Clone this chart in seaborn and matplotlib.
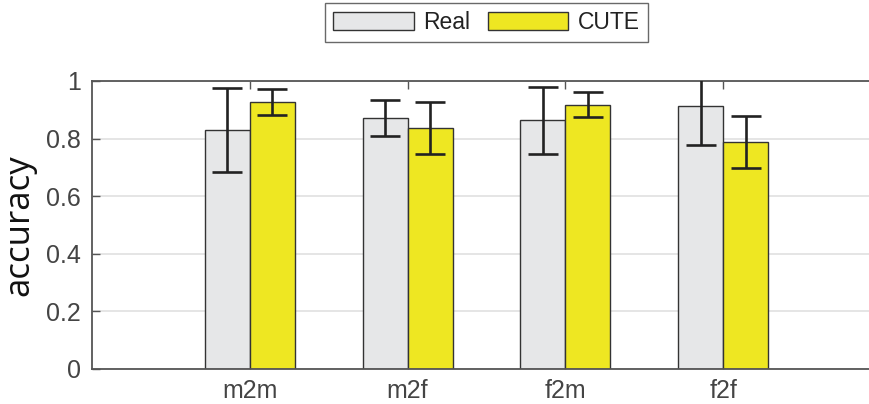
import numpy as np
import pandas as pd
import matplotlib
matplotlib.use("Agg")
import matplotlib.pyplot as plt
import seaborn as sns
from matplotlib.patches import Patch

# data
conditions = ["m2m", "m2f", "f2m", "f2f"]
real_acc = [0.830, 0.872, 0.863, 0.914]
real_err = [0.146, 0.062, 0.117, 0.137]
cute_acc = [0.926, 0.836, 0.918, 0.789]
cute_err = [0.045, 0.090, 0.044, 0.091]
series = ["Real", "CUTE"]
yticks = [0, 0.2, 0.4, 0.6, 0.8, 1]

colors = {"Real": "#E6E7E8", "CUTE": "#EEE722"}
edge = "#333333"

df = pd.DataFrame({
    "condition": conditions * 2,
    "accuracy": real_acc + cute_acc,
    "err": real_err + cute_err,
    "model": ["Real"] * 4 + ["CUTE"] * 4,
})

sns.set_theme(style="white")
plt.rcParams["font.family"] = ["Liberation Sans", "DejaVu Sans"]

fig = plt.figure(figsize=(8.7, 4.04), dpi=100)
ax = fig.add_axes([92 / 870, 35 / 404, 789 / 870, 288 / 404])

sns.barplot(data=df, x="condition", y="accuracy", hue="model", order=conditions,
            hue_order=series, palette=colors, saturation=1, width=0.57, dodge=True,
            edgecolor=edge, linewidth=1.0, legend=False, ax=ax, zorder=2)

# error bars at the bar centres (bars sorted left to right)
bars = sorted(ax.patches, key=lambda p: p.get_x())
vals = []
for i in range(4):
    vals.append((real_acc[i], real_err[i]))
    vals.append((cute_acc[i], cute_err[i]))
for p, (v, e) in zip(bars, vals):
    xc = p.get_x() + p.get_width() / 2
    ax.errorbar(xc, v, yerr=e, fmt="none", ecolor="#222222", elinewidth=1.9,
                capsize=11, capthick=1.9, zorder=3)

ax.set_xlim(-1, 4)
ax.set_ylim(0, 1)
ax.set_yticks(yticks)
ax.set_yticklabels(["0", "0.2", "0.4", "0.6", "0.8", "1"])
ax.yaxis.grid(True, color="#E3E3E3", linewidth=1.3, zorder=0)
ax.set_axisbelow(True)
ax.set_xlabel("")
ax.set_ylabel("accuracy", family=["Open Sans", "DejaVu Sans"], fontsize=25,
              color="#111111")
ax.yaxis.set_label_coords(-0.071, 0.5)

for s in ["left", "top", "bottom", "right"]:
    ax.spines[s].set_visible(True)
    ax.spines[s].set_color("#555555")
    ax.spines[s].set_linewidth(1.3)

ax.tick_params(axis="both", direction="in", labelsize=18, labelcolor="#444444",
               color="#555555", length=6, width=1.0)
ax.tick_params(axis="x", top=True, bottom=True, pad=7)
ax.tick_params(axis="y", left=True, right=False, pad=8)

handles = [Patch(facecolor=colors[s], edgecolor=edge, linewidth=1.0, label=s)
           for s in series]
fig.legend(handles=handles, loc="center", bbox_to_anchor=(486.5 / 870, 1 - 22.5 / 404),
           ncol=2, fontsize=16.5, frameon=True, fancybox=False, edgecolor="#444444",
           handlelength=3.5, handleheight=0.8, columnspacing=0.8, handletextpad=0.4,
           borderpad=0.35, labelcolor="#222222")
fig.legends[0].get_frame().set_linewidth(1.0)

fig.savefig("out.png", dpi=100)
